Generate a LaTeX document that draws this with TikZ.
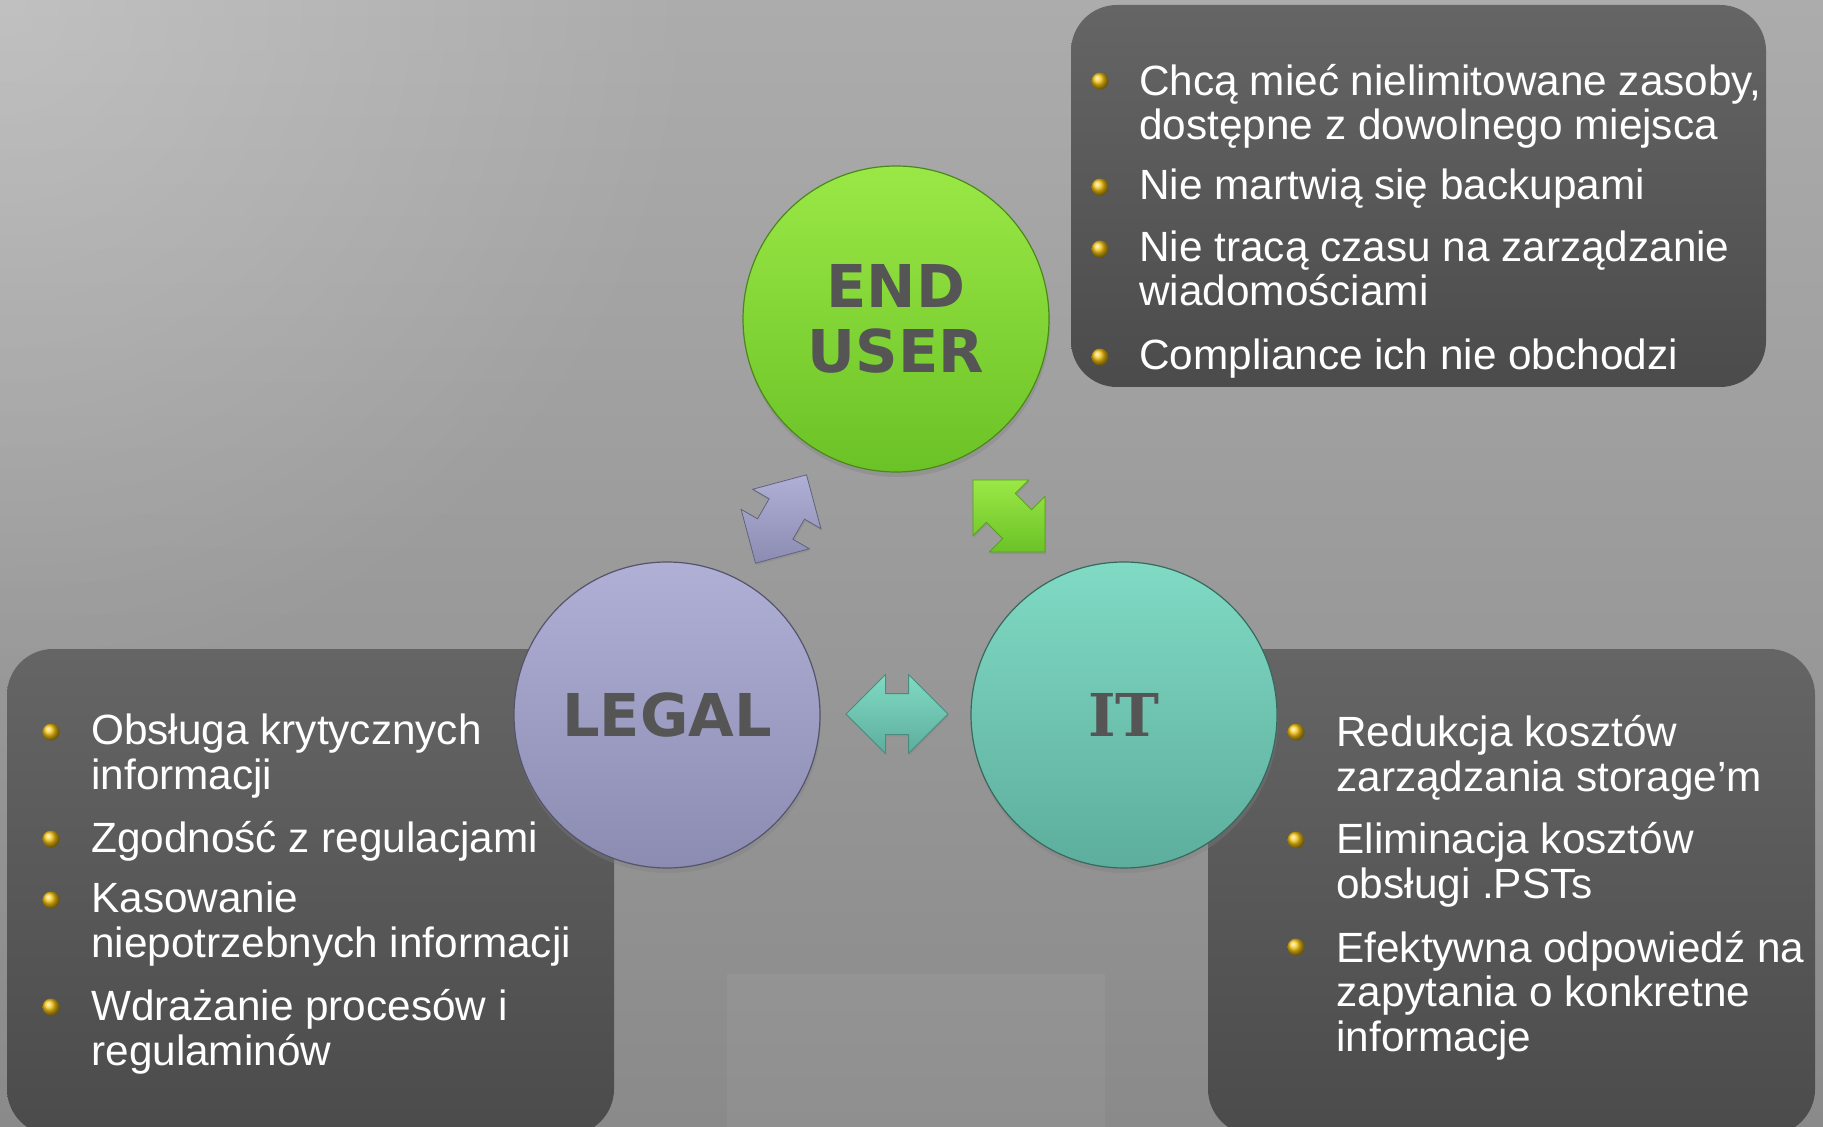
\documentclass[tikz,border=0pt]{standalone}
\usepackage{fontspec}
\setmainfont{Liberation Sans}
\newfontfamily\badgefont{DejaVu Sans}
\newfontfamily\badgeseriffont{DejaVu Serif}
\usetikzlibrary{shapes.arrows,shadows,fadings,positioning}

\definecolor{bgtop}{HTML}{ACACAC}
\definecolor{bgmid}{HTML}{8C8C8C}
\definecolor{bgbot}{HTML}{8A8A8A}
\definecolor{paneltop}{HTML}{656565}
\definecolor{panelbot}{HTML}{4B4B4B}
\definecolor{badgetext}{HTML}{555555}
\definecolor{usertop}{HTML}{9AE846}
\definecolor{userbot}{HTML}{6BC226}
\definecolor{legaltop}{HTML}{B0B0D6}
\definecolor{legalbot}{HTML}{8C8CB2}
\definecolor{ittop}{HTML}{80DAC4}
\definecolor{itbot}{HTML}{5DAE9C}
\definecolor{gold}{RGB}{246,196,16}

\tikzfading[name=glow, inner color=transparent!0, outer color=transparent!100]

\tikzset{
  panel/.style={rounded corners=23pt, top color=paneltop, bottom color=panelbot},
  badge/.style={circle, minimum size=153pt, inner sep=0pt, align=center,
    text=badgetext, line width=0.6pt,
    font=\badgefont\bfseries\fontsize{29.5}{32.5}\selectfont,
    drop shadow={shadow xshift=0.5pt, shadow yshift=-2.5pt, opacity=.35}},
  dblarrow/.style={double arrow, double arrow head extend=9.5pt,
    double arrow tip angle=90, minimum height=51pt, minimum width=0pt,
    inner xsep=0pt, inner ysep=10pt, line width=0.4pt,
    drop shadow={shadow xshift=0.5pt, shadow yshift=-1pt, opacity=.3}},
  item/.style={anchor=base west, inner sep=0pt, text=white, align=left,
    font=\fontsize{21.15}{22.2}\selectfont},
  dot/.style={circle, minimum size=8.5pt, inner sep=0pt, ball color=gold}
}

\begin{document}
\begin{tikzpicture}[x=0.5pt, y=-0.5pt]
\path[use as bounding box] (0,0) rectangle (1823,1127);
\clip (0,0) rectangle (1823,1127);

% background
\shade[top color=bgtop, middle color=bgmid, bottom color=bgbot] (0,0) rectangle (1823,1127);
\fill[white, opacity=.25, path fading=glow] (0,0) circle (350pt);
\fill[white, opacity=.05] (727,974) rectangle (1105,1127);

% panels
\shade[panel] (1071,5) rectangle (1766,387);
\shade[panel] (7,649) rectangle (614,1135);
\shade[panel] (1208,649) rectangle (1815,1135);

% badges
\node[badge, top color=usertop, bottom color=userbot, draw=userbot!70!black]
  (enduser) at (896,319) {END\\USER};
\node[badge, top color=legaltop, bottom color=legalbot, draw=legalbot!60!black]
  (legal) at (667,715) {LEGAL};
\node[badge, top color=ittop, bottom color=itbot, draw=itbot!60!black,
  font=\badgeseriffont\bfseries\fontsize{29.5}{32.5}\selectfont]
  (it) at (1124,715) {IT};

% arrows between badges
\node[dblarrow, rotate=60, top color=legaltop, bottom color=legalbot,
  draw=legalbot!70!black] (legaluser) at (781,519) {};
\node[dblarrow, rotate=-45, top color=usertop, bottom color=userbot,
  draw=userbot!80!black] (userit) at (1009,516) {};
\node[dblarrow, top color=ittop, bottom color=itbot,
  draw=itbot!80!black] (legalit) at (897,714) {};

% end user
\node[dot] (u1dot) at (1100,81) {};
\node[item] (u1) at (1139,140) {Chcą mieć nielimitowane zasoby,\\dostępne z dowolnego miejsca};
\node[dot] (u2dot) at (1100,187) {};
\node[item] (u2) at (1139,200) {Nie martwią się backupami};
\node[dot] (u3dot) at (1100,249) {};
\node[item] (u3) at (1139,306) {Nie tracą czasu na zarządzanie\\wiadomościami};
\node[dot] (u4dot) at (1100,357) {};
\node[item] (u4) at (1139,370) {Compliance ich nie obchodzi};

% legal
\node[dot] (l1dot) at (51,732) {};
\node[item] (l1) at (91,789) {Obsługa krytycznych\\informacji};
\node[dot] (l2dot) at (51,839) {};
\node[item] (l2) at (91,852) {Zgodność z regulacjami};
\node[dot] (l3dot) at (51,900) {};
\node[item] (l3) at (91,957) {Kasowanie\\niepotrzebnych informacji};
\node[dot] (l4dot) at (51,1007) {};
\node[item] (l4) at (91,1065) {Wdrażanie procesów i\\regulaminów};

% it
\node[dot] (r1dot) at (1296,732) {};
\node[item] (r1) at (1336,791) {Redukcja kosztów\\zarządzania storage’m};
\node[dot] (r2dot) at (1296,840) {};
\node[item] (r2) at (1336,898) {Eliminacja kosztów\\obsługi .PSTs};
\node[dot] (r3dot) at (1296,947) {};
\node[item] (r3) at (1336,1051) {Efektywna odpowiedź na\\zapytania o konkretne\\informacje};

\end{tikzpicture}
\end{document}
